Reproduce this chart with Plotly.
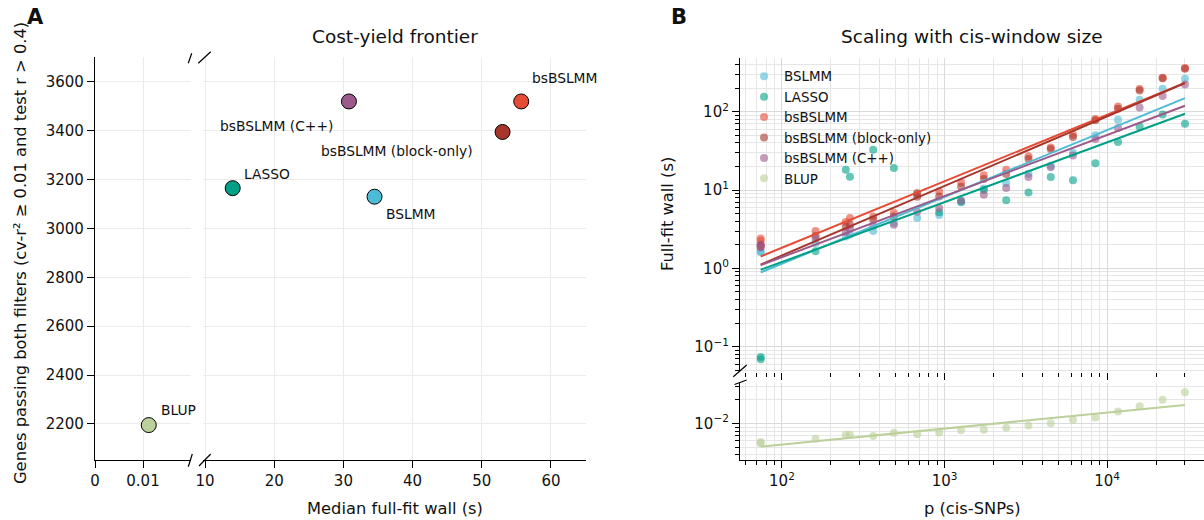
import numpy as np
import plotly.graph_objects as go

W, H = 1204, 520
FONT = "DejaVu Sans"

# ---------------- data ----------------
methods = ["BSLMM", "LASSO", "bsBSLMM", "bsBSLMM (block-only)", "bsBSLMM (C++)", "BLUP"]
colors = {
    "BSLMM": "#4DBBD5",
    "LASSO": "#00A087",
    "bsBSLMM": "#E64B35",
    "bsBSLMM (block-only)": "#A8352B",
    "bsBSLMM (C++)": "#9C5A8B",
    "BLUP": "#BBD09A",
}

# Panel A: cost-yield frontier
a_methods = ["bsBSLMM", "bsBSLMM (C++)", "bsBSLMM (block-only)", "LASSO", "BSLMM", "BLUP"]
a_wall = [55.7, 30.8, 53.0, 14.0, 34.5, 0.0112]
a_genes = [3520, 3520, 3395, 3165, 3130, 2195]

# Panel B: scaling with cis-window size
p_snps = [74, 74, 161, 247, 262, 364, 488, 679, 927, 1265, 1745, 2395, 3284, 4501,
          6168, 8469, 11670, 15850, 21960, 30130]
wall_bslmm = [1.65, 1.6, 2.1, 2.55, 2.7, 3.0, 3.8, 4.4, 4.8, 7.2, 10.5, 12.3, 16.2, 20.5,
              30, 50, 79, 142, 196, 263]
wall_lasso = [0.074, 0.069, 1.65, 18.2, 14.8, 32.7, 19.1, 9.0, 5.2, 7.0, 10.0, 7.4, 9.3, 14.7,
              13.3, 22, 41, 65, 92, 70]
wall_bsbslmm = [2.4, 2.25, 3.0, 3.9, 4.4, 4.6, 5.1, 9.2, 9.6, 12.5, 15.5, 18.2, 27, 35,
                51, 81, 117, 195, 272, 362]
wall_block = [2.0, 1.9, 2.6, 3.4, 3.6, 4.2, 4.6, 8.2, 8.3, 11.0, 13.8, 16.0, 25, 33.5,
              47.5, 78, 109, 186, 268, 355]
wall_cpp = [2.0, 1.85, 2.4, 2.9, 3.2, 3.5, 3.6, 5.3, 5.9, 7.3, 8.7, 10.6, 14.7, 19.5,
            27.7, 45, 62, 113, 159, 222]
wall_blup = [0.0058, 0.0056, 0.0064, 0.0072, 0.0072, 0.0069, 0.0076, 0.0073, 0.0077, 0.0082,
             0.0083, 0.0088, 0.0094, 0.0101, 0.0112, 0.0119, 0.0142, 0.0166, 0.0201, 0.025]
b_series = {
    "BSLMM": wall_bslmm,
    "LASSO": wall_lasso,
    "bsBSLMM": wall_bsbslmm,
    "bsBSLMM (block-only)": wall_block,
    "bsBSLMM (C++)": wall_cpp,
    "BLUP": wall_blup,
}
# log-log power-law fits (log10 wall = a + b*log10 p)
fit_a = {"BSLMM": -1.646, "LASSO": -1.444, "bsBSLMM": -1.435,
         "bsBSLMM (block-only)": -1.611, "bsBSLMM (C++)": -1.417, "BLUP": -2.677}
fit_b = {"BSLMM": 0.853, "LASSO": 0.763, "bsBSLMM": 0.849,
         "bsBSLMM (block-only)": 0.888, "bsBSLMM (C++)": 0.780, "BLUP": 0.204}

# ---------------- helpers ----------------
def px(x):
    return x / W

def py(y):
    return 1 - y / H

fig = go.Figure()

# ---------------- Panel A traces ----------------
for m, xv, yv in zip(a_methods, a_wall, a_genes):
    on_left = m == "BLUP"
    fig.add_trace(go.Scatter(
        x=[xv], y=[yv], mode="markers", showlegend=False,
        xaxis="x" if on_left else "x2", yaxis="y",
        marker=dict(size=15, color=colors[m], line=dict(color="black", width=1)),
        hoverinfo="skip",
    ))

label_style = {
    "bsBSLMM": dict(xanchor="left", xshift=9, yshift=23),
    "bsBSLMM (C++)": dict(xanchor="right", xshift=-14, yshift=-25),
    "bsBSLMM (block-only)": dict(xanchor="right", xshift=-28, yshift=-19),
    "LASSO": dict(xanchor="left", xshift=9, yshift=14),
    "BSLMM": dict(xanchor="left", xshift=9, yshift=-17),
    "BLUP": dict(xanchor="left", xshift=10, yshift=15),
}
for m, xv, yv in zip(a_methods, a_wall, a_genes):
    st = label_style[m]
    fig.add_annotation(
        x=xv, y=yv, xref="x" if m == "BLUP" else "x2", yref="y", text=m,
        showarrow=False, yanchor="middle", font=dict(family=FONT, size=13.8, color="#111"), **st)

# ---------------- Panel B traces ----------------
for m in methods:
    lower = m == "BLUP"
    fig.add_trace(go.Scatter(
        x=p_snps, y=b_series[m], mode="markers", name=m,
        xaxis="x4" if lower else "x3", yaxis="y4" if lower else "y3",
        marker=dict(size=8, color=colors[m], opacity=0.6, line=dict(width=0)),
        hoverinfo="skip",
    ))
pr = np.array([min(p_snps), max(p_snps)], dtype=float)
for m in methods:
    lower = m == "BLUP"
    yfit = 10 ** (fit_a[m] + fit_b[m] * np.log10(pr))
    fig.add_trace(go.Scatter(
        x=pr, y=yfit, mode="lines", showlegend=False,
        xaxis="x4" if lower else "x3", yaxis="y4" if lower else "y3",
        line=dict(color=colors[m], width=2), hoverinfo="skip",
    ))

# ---------------- axes ----------------
tickfont = dict(family=FONT, size=15, color="#111")
gridA = "#ebebeb"
common = dict(showline=True, linecolor="black", linewidth=1.2, ticks="outside",
              ticklen=7, tickwidth=1.2, tickcolor="black", tickfont=tickfont,
              zeroline=False, mirror=False, automargin=False)

yA_dom = [py(460), py(57)]
fig.update_layout(
    xaxis=dict(domain=[px(95), px(191)], range=[0, 0.02], tickvals=[0, 0.01],
               ticktext=["0", "0.01"], showgrid=True, gridcolor=gridA, anchor="y", **common),
    xaxis2=dict(domain=[px(203), px(586)], range=[9.71, 65.06], tickvals=[10, 20, 30, 40, 50, 60],
                showgrid=True, gridcolor=gridA, anchor="y", **common),
    yaxis=dict(domain=yA_dom, range=[2052, 3702], tickvals=[2200, 2400, 2600, 2800, 3000, 3200, 3400, 3600],
               showgrid=True, gridcolor=gridA, anchor="x", **common),
)

major_x = [100, 1000, 10000]
minor_x = [k * 10 ** e for e in range(1, 5) for k in range(2, 10)]
major_y_up = [0.1, 1, 10, 100]
minor_y_up = [k * 10 ** e for e in range(-2, 3) for k in range(2, 10)]
major_y_lo = [0.01]
minor_y_lo = [k * 10 ** e for e in range(-3, -1) for k in range(2, 10)]

def sup(e):
    s = str(e).replace("-", "\u2212")
    return f"10<sup>{s}</sup>"

gridB = "#dadada"
minorB = dict(tickvals=None, ticks="outside", ticklen=4, tickwidth=1, tickcolor="black",
              showgrid=True, gridcolor="#e6e6e6", gridwidth=0.8)

xB_dom = [px(740), 1.0]
xrange_b = [1.742, 4.596]
fig.update_layout(
    xaxis3=dict(type="log", domain=xB_dom, range=xrange_b, anchor="y3",
                tickvals=major_x, showticklabels=False, showline=False,
                ticks="outside", ticklen=7, tickwidth=1.2, tickcolor="black",
                showgrid=True, gridcolor=gridB, zeroline=False, automargin=False,
                minor={**minorB, "tickvals": minor_x}),
    yaxis3=dict(type="log", domain=[py(372), py(58)], range=[-1.323, 2.686], anchor="x3",
                tickvals=major_y_up, ticktext=[sup(-1), sup(0), sup(1), sup(2)],
                showgrid=True, gridcolor=gridB, **common,
                minor={**minorB, "tickvals": minor_y_up}),
    xaxis4=dict(type="log", domain=xB_dom, range=xrange_b, anchor="y4",
                tickvals=major_x, ticktext=[sup(2), sup(3), sup(4)],
                showgrid=True, gridcolor=gridB, **common,
                minor={**minorB, "tickvals": minor_x}),
    yaxis4=dict(type="log", domain=[py(460), py(383)], range=[-2.466, -1.483], anchor="x4",
                tickvals=major_y_lo, ticktext=[sup(-2)],
                showgrid=True, gridcolor=gridB, **common,
                minor={**minorB, "tickvals": minor_y_lo}),
)

# ---------------- break marks ----------------
segs = [
    ((188.3, 63.3), (191.7, 53.3)), ((198.3, 63.3), (210.7, 51.7)),
    ((188.3, 466.7), (192.3, 454.0)), ((199.0, 466.0), (210.7, 454.0)),
    ((733.3, 376.7), (746.7, 365.0)), ((734.5, 384.5), (746.7, 380.0)),
]
for (x0, y0), (x1, y1) in segs:
    fig.add_shape(type="line", xref="paper", yref="paper", x0=px(x0), y0=py(y0),
                  x1=px(x1), y1=py(y1), line=dict(color="black", width=1.2))

# ---------------- texts ----------------
def txt(x, y, s, size, angle=0, bold=False):
    fig.add_annotation(x=px(x), y=py(y), xref="paper", yref="paper", text=f"<b>{s}</b>" if bold else s,
                       showarrow=False, xanchor="center", yanchor="middle", textangle=angle,
                       font=dict(family=FONT, size=size, color="#111"))

txt(395, 37, "Cost-yield frontier", 18.5)
txt(972, 37, "Scaling with cis-window size", 18.5)
txt(35, 17, "A", 21, bold=True)
txt(679, 17, "B", 21, bold=True)
txt(395, 508, "Median full-fit wall (s)", 16.3)
txt(972, 508, "p (cis-SNPs)", 16.3)
txt(20, 253, "Genes passing both filters (cv-r² ≥ 0.01 and test r > 0.4)", 16.3, angle=-90)
txt(667, 214, "Full-fit wall (s)", 16.3, angle=-90)

fig.update_layout(
    width=W, height=H, margin=dict(l=0, r=0, t=0, b=0, autoexpand=False),
    paper_bgcolor="white", plot_bgcolor="white",
    showlegend=True,
    legend=dict(x=px(744), y=py(61), xanchor="left", yanchor="top",
                bgcolor="rgba(255,255,255,0)", borderwidth=0,
                font=dict(family=FONT, size=13.4, color="#111"),
                itemsizing="trace"),
    font=dict(family=FONT),
)

fig.write_html("out.html")
